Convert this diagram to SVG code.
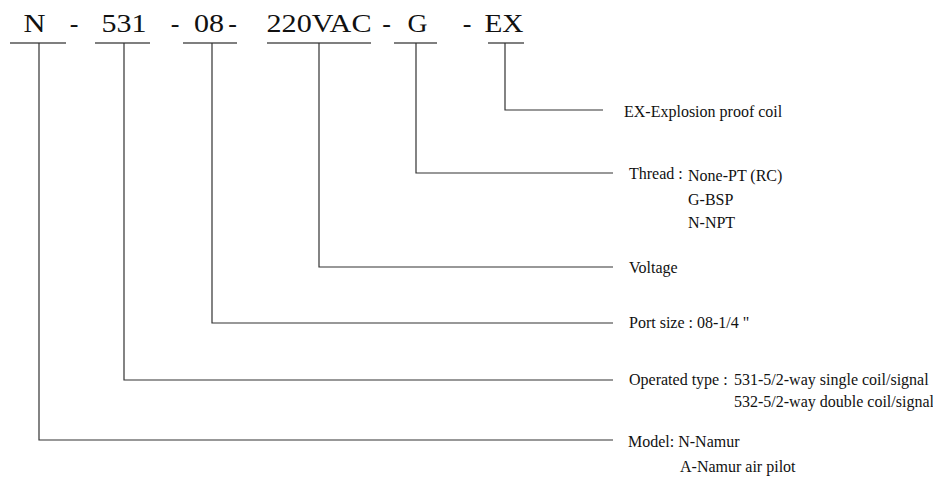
<svg xmlns="http://www.w3.org/2000/svg" width="933" height="480" viewBox="0 0 933 480">
<style>
  .code { font-family: "Liberation Serif", "Times New Roman", serif; font-size: 26px; fill: #111; }
  .lbl { font-family: "Liberation Serif", "Times New Roman", serif; font-size: 16px; fill: #111; }
  .ul { stroke: #555; stroke-width: 1.5; fill: none; }
  .conn { stroke: #333; stroke-width: 1.2; fill: none; }
</style>
<rect width="933" height="480" fill="#fff"/>

<g id="code-N">
  <text class="code" x="34.5" y="32" text-anchor="middle" textLength="22" lengthAdjust="spacingAndGlyphs">N</text>
  <line class="ul" x1="10" y1="43" x2="66" y2="43"/>
</g>
<g id="code-531">
  <text class="code" x="124" y="32" text-anchor="middle" textLength="45" lengthAdjust="spacingAndGlyphs">531</text>
  <line class="ul" x1="95" y1="43" x2="150" y2="43"/>
</g>
<g id="code-08">
  <text class="code" x="209" y="32" text-anchor="middle" textLength="30" lengthAdjust="spacingAndGlyphs">08</text>
  <line class="ul" x1="183" y1="43" x2="237" y2="43"/>
</g>
<g id="code-220VAC">
  <text class="code" x="319" y="32" text-anchor="middle" textLength="105" lengthAdjust="spacingAndGlyphs">220VAC</text>
  <line class="ul" x1="267" y1="43" x2="371" y2="43"/>
</g>
<g id="code-G">
  <text class="code" x="417.5" y="32" text-anchor="middle" textLength="20" lengthAdjust="spacingAndGlyphs">G</text>
  <line class="ul" x1="394" y1="43" x2="437" y2="43"/>
</g>
<g id="code-EX">
  <text class="code" x="504" y="32" text-anchor="middle" textLength="39" lengthAdjust="spacingAndGlyphs">EX</text>
  <line class="ul" x1="488" y1="43" x2="524" y2="43"/>
</g>
<g id="dashes">
  <text class="code" x="74" y="32" text-anchor="middle">-</text>
  <text class="code" x="175" y="32" text-anchor="middle">-</text>
  <text class="code" x="232.5" y="32" text-anchor="middle">-</text>
  <text class="code" x="386.5" y="32" text-anchor="middle">-</text>
  <text class="code" x="467" y="32" text-anchor="middle">-</text>
</g>

<g id="connectors">
  <polyline class="conn" points="39,43 39,440 613,440"/>
  <polyline class="conn" points="124,43 124,380 613,380"/>
  <polyline class="conn" points="212,43 212,323 613,323"/>
  <polyline class="conn" points="319,43 319,267 613,267"/>
  <polyline class="conn" points="416,43 416,173 613,173"/>
  <polyline class="conn" points="505,43 505,110 603,110"/>
</g>

<g id="label-EX">
  <text class="lbl" x="624" y="117">EX-Explosion proof coil</text>
</g>
<g id="label-thread">
  <text class="lbl" x="629" y="179">Thread :</text>
  <text class="lbl" x="688" y="181">None-PT (RC)</text>
  <text class="lbl" x="688" y="205">G-BSP</text>
  <text class="lbl" x="688" y="228">N-NPT</text>
</g>
<g id="label-voltage">
  <text class="lbl" x="629" y="273">Voltage</text>
</g>
<g id="label-port">
  <text class="lbl" x="629" y="328">Port size : 08-1/4 "</text>
</g>
<g id="label-operated">
  <text class="lbl" x="629" y="385">Operated type :</text>
  <text class="lbl" x="734" y="385">531-5/2-way single coil/signal</text>
  <text class="lbl" x="734" y="407">532-5/2-way double coil/signal</text>
</g>
<g id="label-model">
  <text class="lbl" x="628" y="447">Model: N-Namur</text>
  <text class="lbl" x="680" y="472">A-Namur air pilot</text>
</g>
</svg>
